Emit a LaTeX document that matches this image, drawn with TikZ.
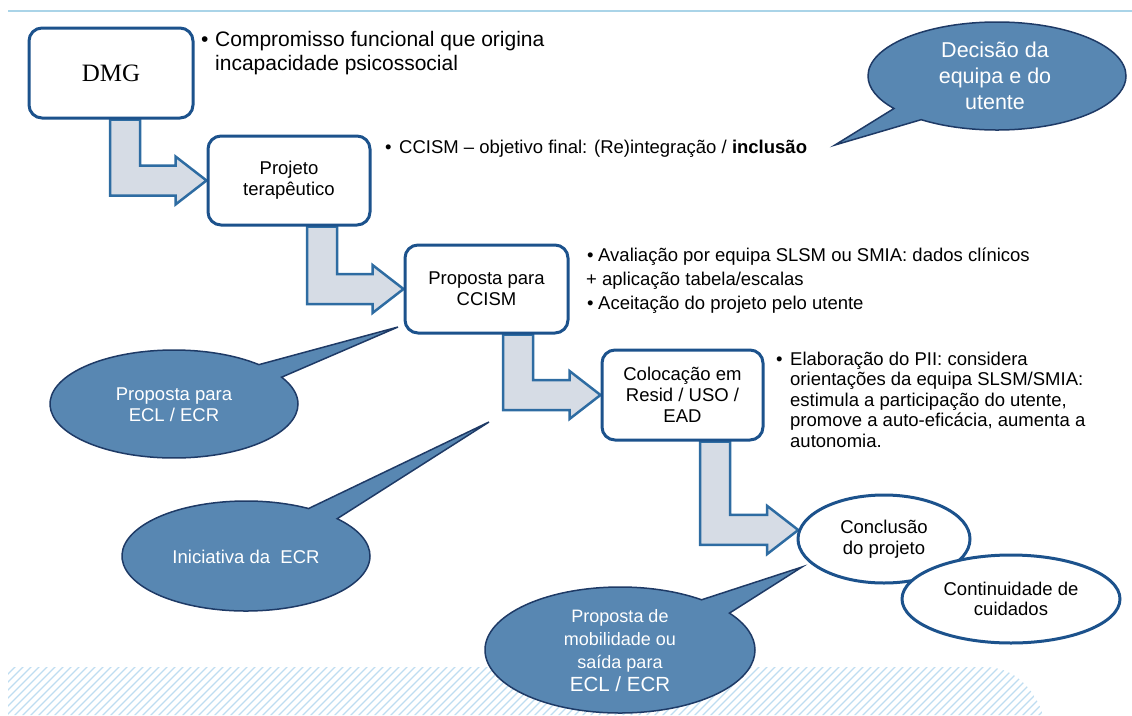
\documentclass[tikz,border=0pt]{standalone}
\usepackage{fontspec}
\setmainfont{Liberation Sans}
\newfontfamily\dmgfont{Liberation Serif}
\usetikzlibrary{shapes.geometric,shapes.callouts,calc,backgrounds}
\definecolor{boxblue}{RGB}{28,82,140}
\definecolor{arrline}{RGB}{46,108,162}
\definecolor{arrfill}{RGB}{214,220,229}
\definecolor{callfill}{RGB}{88,135,178}
\definecolor{callline}{RGB}{30,58,102}
\definecolor{hatchblue}{RGB}{190,221,241}
\definecolor{toplineblue}{RGB}{170,212,232}
\newcommand\blockarr[3]{%
  \draw[barrow] ($(#1.south)+(#2,0)$) -- ++(30,0) |- ($(#3)+(-31,-15)$) -- ++(0,-9)
    -- (#3) -- ++(-31,24) -- ++(0,-9) -| ($(#1.south)+(#2,0)$) -- cycle;}
\begin{document}
\begin{tikzpicture}[x=1pt,y=-1pt,
  box/.style={draw=boxblue, line width=3pt, rounded corners=13pt, fill=white, align=center,
    font=\fontsize{18.5}{21}\selectfont, inner sep=0pt},
  ell/.style={ellipse, draw=boxblue, line width=3pt, fill=white, align=center,
    font=\fontsize{18.5}{20.5}\selectfont, inner sep=0pt},
  bubble/.style={ellipse callout, fill=callfill, draw=callline, line width=1.5pt,
    inner sep=0pt, callout pointer arc=17},
  ctext/.style={text=white, align=center, inner sep=0pt},
  btext/.style={anchor=base west, inner sep=0pt, font=\fontsize{18.5}{22}\selectfont},
  barrow/.style={draw=arrline, fill=arrfill, line width=2.5pt, line join=miter},
  hatch/.style={draw=hatchblue, line width=1.1pt},
  topline/.style={draw=toplineblue, line width=2pt}
]
\useasboundingbox (0,0) rectangle (1132,715);

% boxes
\node[box, minimum width=164, minimum height=90] (dmg) at (111,73)
  {\dmgfont\fontsize{25}{28}\selectfont DMG};
\node[box, minimum width=162, minimum height=89] (proj) at (289,180.5)
  {Projeto\\terapêutico};
\node[box, minimum width=163, minimum height=88] (prop) at (486.5,289)
  {Proposta para\\CCISM};
\node[box, minimum width=161, minimum height=90] (coloc) at (682.5,395)
  {Colocação em\\Resid / USO /\\EAD};
\node[ell, minimum width=172, minimum height=88] (concl) at (884,539)
  {Conclusão\\do projeto};
\node[ell, minimum width=218, minimum height=88] (cont) at (1011,599)
  {Continuidade de\\cuidados};

% background: hatch, top line, block arrows
\begin{scope}[on background layer]
  \draw[topline] (8,11) -- (1132,11);
  \begin{scope}
    \clip (8,667) -- (985,667) .. controls (1015,667) and (1035,690) .. (1043,715)
      -- (8,715) -- cycle;
    \foreach \i in {-60,-52,...,1060} {\draw[hatch] (\i,718) -- ++(54,-54);}
  \end{scope}
  \coordinate (t4) at (concl.174);
  \blockarr{dmg}{-1}{proj.west}
  \blockarr{proj}{18}{prop.west}
  \blockarr{prop}{16.5}{coloc.west}
  \blockarr{coloc}{17.5}{t4}
\end{scope}

% bullet texts
\node[btext, font=\fontsize{21}{24}\selectfont] (b1) at (201,46) {\textbullet};
\node[btext, font=\fontsize{21}{24}\selectfont] (l1a) at (215,46) {Compromisso funcional que origina};
\node[btext, font=\fontsize{21}{24}\selectfont] (l1b) at (215,70) {incapacidade psicossocial};

\node[btext] (b2) at (385,153) {\textbullet};
\node[btext] (l2a) at (399,153) {CCISM – objetivo final: (Re)integração / \textbf{inclusão}};

\node[btext] (b3) at (587,261) {\textbullet};
\node[btext] (l3a) at (598,261) {Avaliação por equipa SLSM ou SMIA: dados clínicos};
\node[btext] (l3b) at (586,285) {+ aplicação tabela/escalas};
\node[btext] (b3c) at (587,309) {\textbullet};
\node[btext] (l3c) at (598,309) {Aceitação do projeto pelo utente};

\node[btext] (b4) at (776,365) {\textbullet};
\node[btext] (l4a) at (790,365) {Elaboração do PII: considera};
\node[btext] (l4b) at (790,385.5) {orientações da equipa SLSM/SMIA:};
\node[btext] (l4c) at (790,406) {estimula a participação do utente,};
\node[btext] (l4d) at (790,426.5) {promove a auto-eficácia, aumenta a};
\node[btext] (l4e) at (790,447) {autonomia.};

% callouts
\node[bubble, minimum width=258, minimum height=108, callout absolute pointer={(835,145)}]
  (c1) at (997,76) {};
\node[ctext, font=\fontsize{21.5}{26}\selectfont] (c1t) at (995,76) {Decisão da\\equipa e do\\utente};

\node[bubble, minimum width=248, minimum height=108, callout absolute pointer={(398,327)}]
  (c2) at (174,404) {};
\node[ctext, font=\fontsize{18.5}{21}\selectfont] (c2t) at (174,405) {Proposta para\\ECL / ECR};

\node[bubble, minimum width=248, minimum height=110, callout absolute pointer={(489,422)}]
  (c3) at (246,556) {};
\node[ctext, font=\fontsize{18.5}{21}\selectfont] (c3t) at (246,557) {Iniciativa da\ \ ECR};

\node[bubble, minimum width=270, minimum height=126, callout absolute pointer={(802,567)}]
  (c4) at (620,650) {};
\node[ctext, font=\fontsize{18}{23}\selectfont] (c4t) at (620,651)
  {Proposta de\\mobilidade ou\\saída para\\{\fontsize{20.5}{23}\selectfont ECL / ECR}};
\end{tikzpicture}
\end{document}
